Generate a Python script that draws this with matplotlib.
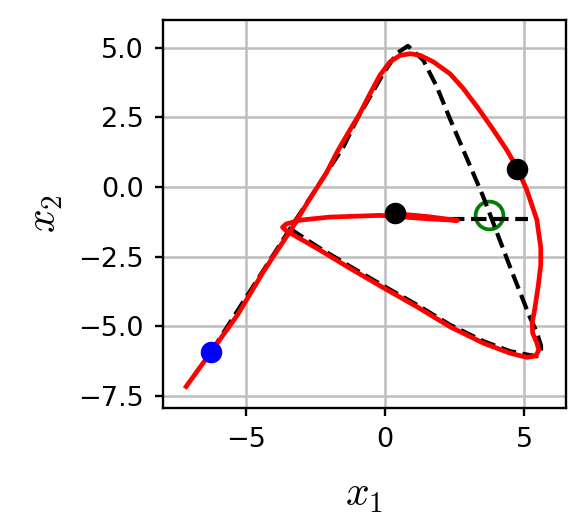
import numpy as np
import matplotlib
matplotlib.use("Agg")
import matplotlib.pyplot as plt

plt.rcParams['mathtext.fontset'] = 'cm'

# reference path (dashed)
ref_x = [-6.24, -3.41, -1.49, -1.02, -0.06, 0.42, 0.82, 1.37, 1.86, 2.33, 3.53, 4.49, 5.20, 5.44,
         5.60, 5.60, 5.45, 5.09, 4.49, 3.53, 2.33, 1.14, -0.06, -1.26, -2.45, -3.41]
ref_y = [-5.92, -1.50, 1.45, 2.41, 4.08, 4.80, 5.07, 4.56, 3.60, 2.45, -0.36, -2.88, -4.68, -5.20,
         -5.70, -5.95, -6.08, -6.02, -5.90, -5.54, -4.95, -4.23, -3.55, -2.85, -2.13, -1.50]
# second dashed piece (horizontal)
ref2_x = [2.30, 5.14]
ref2_y = [-1.16, -1.16]

# trajectory (red)
traj_x = [-7.14, -6.24, -5.30, -4.37, -3.85, -3.38, -2.76, -2.11, -1.68, -1.26, -0.90, -0.54, -0.18,
          0.18, 0.54, 0.90, 1.26, 1.73, 2.33, 2.80, 3.35, 3.89, 4.37, 4.75, 5.09, 5.45, 5.59, 5.59,
          5.50, 5.38, 5.28, 5.30, 5.45, 5.52, 5.42, 5.09, 4.49, 3.53, 2.33, 1.14, -0.06, -1.26, -2.45,
          -3.29, -3.55, -3.68, -3.55, -3.05, -1.97, -0.18, 0.40, 1.50, 2.60, 1.50, 0.40]
traj_y = [-7.17, -5.92, -4.60, -3.05, -2.25, -1.55, -0.52, 0.50, 1.33, 2.05, 2.65, 3.35, 4.02,
          4.50, 4.73, 4.79, 4.73, 4.50, 4.07, 3.55, 2.82, 2.05, 1.33, 0.66, -0.11, -1.18, -2.17, -2.80,
          -3.55, -4.35, -4.90, -5.25, -5.60, -5.85, -6.07, -6.12, -5.97, -5.61, -5.02, -4.30, -3.62, -2.92, -2.20,
          -1.72, -1.57, -1.45, -1.33, -1.19, -1.08, -1.02, -1.06, -1.14, -1.20, -1.06, -0.96]

start = (-6.24, -5.92)
black_pts_x = [0.36, 4.75]
black_pts_y = [-0.94, 0.66]
goal = (3.72, -1.01)

fig = plt.figure(figsize=(5.86, 5.25), dpi=100)
ax = fig.add_axes([0.2782, 0.2229, 0.6869, 0.739])

ax.plot(goal[0], goal[1], 'o', mfc='none', mec='green', ms=20, mew=2.7, zorder=2)
ax.plot(ref_x, ref_y, 'k--', lw=3.0, zorder=3)
ax.plot(ref2_x, ref2_y, 'k--', lw=3.0, zorder=3)
ax.plot(traj_x, traj_y, color='red', lw=3.4, zorder=4)
ax.plot(start[0], start[1], 'o', color='blue', ms=14.5, zorder=5)
ax.plot(black_pts_x, black_pts_y, 'o', color='black', ms=14.5, ls='none', zorder=5)

ax.set_xlim(-7.97, 6.48)
ax.set_ylim(-7.94, 6.0)
ax.set_xticks([-5, 0, 5])
ax.set_yticks([-7.5, -5.0, -2.5, 0.0, 2.5, 5.0])
ax.grid(True, color='#bdbdbd', lw=1.8)
ax.set_axisbelow(True)
for s in ax.spines.values():
    s.set_linewidth(1.7)
ax.tick_params(labelsize=19.5, length=6, width=1.7, pad=8)

ax.set_xlabel(r'$x_1$', fontsize=30, labelpad=14)
ax.set_ylabel(r'$x_2$', fontsize=30, labelpad=9)

fig.savefig('out.png', dpi=100)
